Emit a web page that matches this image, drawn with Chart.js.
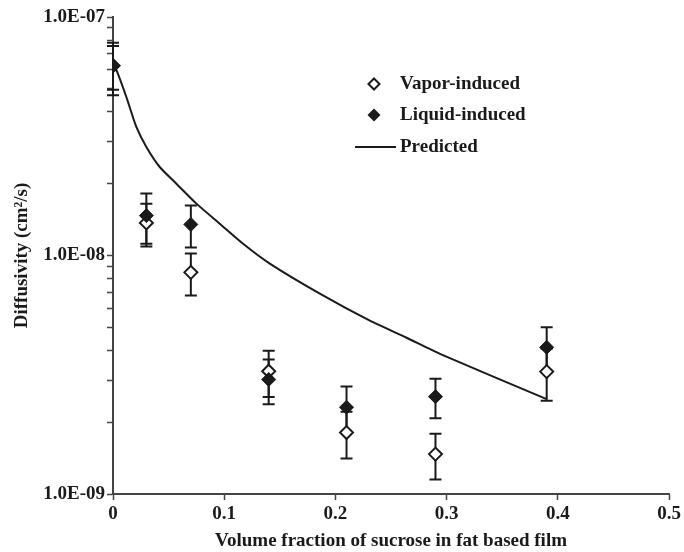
<!DOCTYPE html>
<html>
<head>
<meta charset="utf-8">
<script src="https://cdn.jsdelivr.net/npm/chart.js@4.4.0/dist/chart.umd.min.js"></script>
<style>
  body { margin: 0; background: #fff; }
  #c { display: block; }
</style>
</head>
<body>
<canvas id="c" width="684" height="552"></canvas>
<script>
// measured points (volume fraction of sucrose)
const xVals = [0, 0.03, 0.07, 0.14, 0.21, 0.29, 0.39];
const vapor = [6.25e-8, 1.37e-8, 8.5e-9, 3.27e-9, 1.81e-9, 1.47e-9, 3.26e-9];
const vaporErr = [1.3e-8, 0.28e-8, 1.7e-9, 0.72e-9, 0.4e-9, 0.32e-9, 0.8e-9];
const liquid = [6.25e-8, 1.47e-8, 1.35e-8, 3.02e-9, 2.31e-9, 2.56e-9, 4.12e-9];
const liquidErr = [1.55e-8, 0.35e-8, 0.27e-8, 0.64e-9, 0.51e-9, 0.48e-9, 0.88e-9];

// predicted curve
const predX = [0, 0.003, 0.012, 0.021, 0.03, 0.042, 0.057, 0.075, 0.096, 0.117, 0.141, 0.186, 0.231, 0.264, 0.294, 0.39];
const predY = [6.2e-8, 6.0e-8, 4.62e-8, 3.46e-8, 2.85e-8, 2.35e-8, 2.0e-8, 1.65e-8, 1.36e-8, 1.12e-8, 9.25e-9, 6.92e-9, 5.33e-9, 4.52e-9, 3.87e-9, 2.5e-9];

const xTicks = [0, 0.1, 0.2, 0.3, 0.4, 0.5];
const yTicks = [1e-9, 2e-9, 3e-9, 4e-9, 5e-9, 6e-9, 7e-9, 8e-9, 9e-9,
                1e-8, 2e-8, 3e-8, 4e-8, 5e-8, 6e-8, 7e-8, 8e-8, 9e-8, 1e-7];

const FONT = "'Liberation Serif', 'Times New Roman', serif";
const INK = '#1a1a1a';

function toPts(xs, ys) {
  return xs.map((x, i) => ({x: x, y: ys[i]}));
}

function isDecade(v) {
  const l = Math.log10(v);
  return Math.abs(l - Math.round(l)) < 1e-6;
}

function sciLabel(v) {
  const e = Math.round(Math.log10(v));
  const s = Math.abs(e) < 10 ? '0' + Math.abs(e) : '' + Math.abs(e);
  return '1.0E' + (e < 0 ? '-' : '+') + s;
}

// error bars drawn under the markers
const errorBars = {
  id: 'errorBars',
  beforeDatasetsDraw(chart) {
    const ctx = chart.ctx;
    const ys = chart.scales.y, xs = chart.scales.x;
    ctx.save();
    ctx.strokeStyle = INK;
    ctx.lineWidth = 2;
    chart.data.datasets.forEach(ds => {
      if (!ds.err) return;
      ds.data.forEach((p, i) => {
        const px = xs.getPixelForValue(p.x);
        const top = ys.getPixelForValue(p.y + ds.err[i]);
        const bot = ys.getPixelForValue(p.y - ds.err[i]);
        ctx.beginPath();
        ctx.moveTo(px, top); ctx.lineTo(px, bot);
        ctx.moveTo(px - 6, top); ctx.lineTo(px + 6, top);
        ctx.moveTo(px - 6, bot); ctx.lineTo(px + 6, bot);
        ctx.stroke();
      });
    });
    ctx.restore();
  }
};

// legend placed inside the plot like the original
const innerLegend = {
  id: 'innerLegend',
  afterDraw(chart) {
    const ctx = chart.ctx;
    ctx.save();
    ctx.font = 'bold 19px ' + FONT;
    ctx.textBaseline = 'middle';
    ctx.fillStyle = INK;
    ctx.strokeStyle = INK;
    ctx.lineWidth = 2;
    // vapor
    let r = 5.5, cx = 374, cy = 84;
    ctx.beginPath();
    ctx.moveTo(cx, cy - r); ctx.lineTo(cx + r, cy); ctx.lineTo(cx, cy + r); ctx.lineTo(cx - r, cy); ctx.closePath();
    ctx.fillStyle = '#fff'; ctx.fill(); ctx.stroke();
    ctx.fillStyle = INK;
    ctx.fillText('Vapor-induced', 400, 84);
    // liquid
    cy = 115; r = 6.5;
    ctx.beginPath();
    ctx.moveTo(cx, cy - r); ctx.lineTo(cx + r, cy); ctx.lineTo(cx, cy + r); ctx.lineTo(cx - r, cy); ctx.closePath();
    ctx.fill();
    ctx.fillText('Liquid-induced', 400, 115);
    // predicted
    ctx.beginPath();
    ctx.moveTo(355, 147); ctx.lineTo(396, 147);
    ctx.stroke();
    ctx.fillText('Predicted', 400, 147);
    ctx.restore();
  }
};

new Chart(document.getElementById('c'), {
  type: 'scatter',
  data: {
    datasets: [
      {
        label: 'Liquid-induced',
        data: toPts(xVals, liquid),
        err: liquidErr,
        pointStyle: 'rectRot',
        pointRadius: 7,
        backgroundColor: INK,
        borderColor: INK,
        borderWidth: 1
      },
      {
        label: 'Vapor-induced',
        data: toPts(xVals, vapor),
        err: vaporErr,
        pointStyle: 'rectRot',
        pointRadius: 6.5,
        backgroundColor: '#fff',
        borderColor: INK,
        borderWidth: 2
      },
      {
        label: 'Predicted',
        data: toPts(predX, predY),
        showLine: true,
        pointRadius: 0,
        borderColor: INK,
        borderWidth: 2,
        tension: 0.2
      }
    ]
  },
  options: {
    responsive: false,
    animation: false,
    layout: { padding: { top: 17, right: 15, left: 0, bottom: 0 } },
    plugins: { legend: { display: false }, tooltip: { enabled: false } },
    scales: {
      x: {
        type: 'linear',
        min: 0, max: 0.5,
        afterBuildTicks: s => { s.ticks = xTicks.map(v => ({value: v})); },
        afterFit: s => { s.height = 58; },
        border: { color: '#444', width: 2 },
        grid: { drawOnChartArea: false, tickLength: 6, color: '#444', tickWidth: 1.5 },
        ticks: {
          color: INK, padding: 3,
          font: { family: FONT, size: 19, weight: 'bold' },
          callback: v => v === 0 ? '0' : v.toFixed(1)
        },
        title: {
          display: true,
          text: 'Volume fraction of sucrose in fat based film',
          color: INK,
          padding: { top: 0, bottom: 0 },
          font: { family: FONT, size: 19, weight: 'bold' }
        }
      },
      y: {
        type: 'logarithmic',
        min: 1e-9, max: 1e-7,
        afterBuildTicks: s => { s.ticks = yTicks.map(v => ({value: v})); },
        afterFit: s => { s.width = 113; },
        border: { color: '#444', width: 2 },
        grid: { drawOnChartArea: false, tickLength: 6, color: '#444', tickWidth: 1.5 },
        ticks: {
          color: INK, padding: 2, autoSkip: false,
          font: { family: FONT, size: 19, weight: 'bold' },
          callback: v => isDecade(v) ? sciLabel(v) : ''
        },
        title: {
          display: true,
          text: 'Diffusivity (cm²/s)',
          color: INK,
          padding: { top: 11, bottom: 0 },
          font: { family: FONT, size: 19, weight: 'bold' }
        }
      }
    }
  },
  plugins: [errorBars, innerLegend]
});
</script>
</body>
</html>
